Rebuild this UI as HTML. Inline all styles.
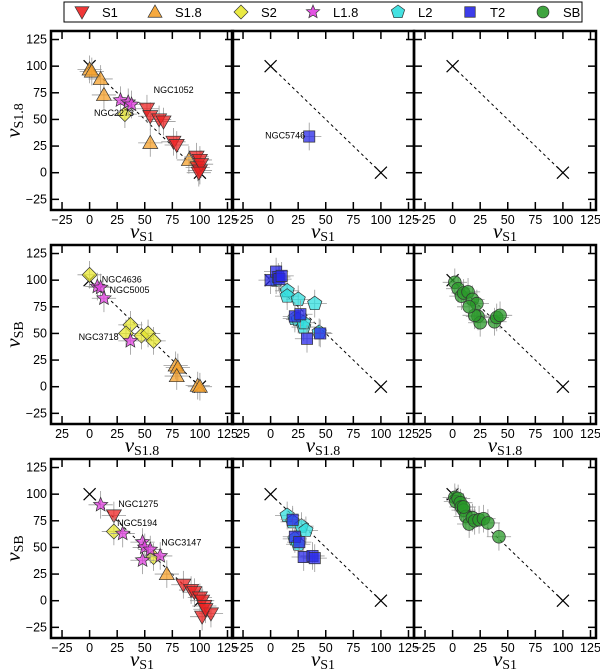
<!DOCTYPE html>
<html><head><meta charset="utf-8">
<style>
html,body{margin:0;padding:0;background:#fff;}
svg{display:block;font-family:"Liberation Sans","DejaVu Sans",sans-serif;}
.tl{font-size:12.5px;fill:#000;}
.ax{font-family:"Liberation Serif","DejaVu Serif",serif;font-style:italic;font-size:21px;}
.sub{font-style:normal;font-size:14px;}
.ann{font-size:9px;fill:#000;}
</style></head>
<body>
<svg id="chart" width="600" height="672" viewBox="0 0 600 672"></svg>
<script>
// ---- data ----
const xTicks = [-25, 0, 25, 50, 75, 100, 125];
const yTicks = [-25, 0, 25, 50, 75, 100, 125];
// Panel 1: x = nu_S1, y = nu_S1.8
const p1_S1 = [[52,60],[55,53],[63,50],[67,48],[76,29],[79,26],[97,15],[100,12],[98,5],[100,2],[101,8],[99,0]];
const p1_S18 = [[0,97],[2,95],[10,88],[13,73],[55,28],[90,12]];
const p1_S2 = [[32,55]];
const p1_L18 = [[28,68],[35,66],[38,64]];
// Panel 2
const p2_T2 = [[35,34]];
// Panel 4: x = nu_S1.8, y = nu_SB
const p4_S2 = [[0,105],[37,58],[33,50],[47,48],[53,50],[58,43]];
const p4_L18 = [[7,94],[10,93],[13,83],[37,43]];
const p4_S18 = [[78,20],[80,18],[79,10],[98,1],[100,0]];
// Panel 5
const p5_L2 = [[5,100],[15,90],[15,85],[25,82],[40,78],[22,64],[25,63],[30,56],[30,60],[44,51]];
const p5_T2 = [[0,100],[5,108],[7,103],[8,101],[10,104],[22,66],[27,68],[33,45],[45,50]];
// Panel 6
const p6_SB = [[2,98],[5,92],[8,85],[10,88],[14,89],[18,82],[22,78],[23,66],[25,60],[20,67],[38,61],[40,65],[43,67],[15,75]];
// Panel 7: x = nu_S1, y = nu_SB
const p7_L18 = [[10,90],[30,63],[48,55],[50,50],[55,48],[48,38],[64,42]];
const p7_S1 = [[22,80],[85,15],[92,10],[95,8],[100,3],[102,0],[104,-5],[102,-15],[110,-12],[105,-8]];
const p7_S2 = [[22,65],[58,41]];
const p7_S18 = [[70,25]];
// Panel 8
const p8_L2 = [[15,80],[20,74],[28,70],[32,66],[22,58],[25,53]];
const p8_T2 = [[20,76],[22,60],[26,55],[30,41],[38,42],[40,40]];
// Panel 9
const p9_SB = [[2,97],[3,93],[5,96],[7,92],[8,88],[10,85],[12,79],[15,72],[18,78],[20,75],[24,76],[28,77],[32,73],[42,60],[10,88]];

const legendLabels = ["S1","S1.8","S2","L1.8","L2","T2","SB"];

// ---- layout ----
const NS="http://www.w3.org/2000/svg";
const svg=document.getElementById('chart');
const colX=[51,232,414], rowY=[31,245,459], PW=182, PH=179;
const XMIN=-35,XMAX=130,YMIN=-35,YMAX=133;
const style={
 S1:{type:'tdown',fill:'#ee2222'},S18:{type:'tup',fill:'#f5a02a'},S2:{type:'diamond',fill:'#e8e830'},
 L18:{type:'star',fill:'#e040e0'},L2:{type:'pent',fill:'#30dede'},T2:{type:'square',fill:'#2828e8'},SB:{type:'circle',fill:'#2a9a2a'}};
function el(tag,attrs,parent){const e=document.createElementNS(NS,tag);for(const k in attrs)e.setAttribute(k,attrs[k]);(parent||svg).appendChild(e);return e;}
function markerPath(type,cx,cy,s){
 let pts=[];
 if(type==='tdown')pts=[[cx-s,cy-s*0.75],[cx+s,cy-s*0.75],[cx,cy+s]];
 else if(type==='tup')pts=[[cx-s,cy+s*0.75],[cx+s,cy+s*0.75],[cx,cy-s]];
 else if(type==='diamond')pts=[[cx,cy-s],[cx+s,cy],[cx,cy+s],[cx-s,cy]];
 else if(type==='square')pts=[[cx-s*0.75,cy-s*0.75],[cx+s*0.75,cy-s*0.75],[cx+s*0.75,cy+s*0.75],[cx-s*0.75,cy+s*0.75]];
 else if(type==='pent'){for(let i=0;i<5;i++){const a=-Math.PI/2+i*2*Math.PI/5;pts.push([cx+s*Math.cos(a),cy+s*Math.sin(a)]);}}
 else if(type==='star'){for(let i=0;i<10;i++){const a=-Math.PI/2+i*Math.PI/5;const r=i%2?s*0.45:s;pts.push([cx+r*Math.cos(a),cy+r*Math.sin(a)]);}}
 return pts;
}
function drawMarker(g,type,fill,cx,cy,s,op){
 if(type==='circle'){return el('circle',{cx:cx,cy:cy,r:s*0.85,fill:fill,'fill-opacity':op,stroke:'#333','stroke-width':0.7},g);}
 return el('polygon',{points:markerPath(type,cx,cy,s).map(p=>p.join(',')).join(' '),fill:fill,'fill-opacity':op,stroke:'#333','stroke-width':0.7},g);
}

// legend
const lg=el('g',{});


el('rect',{x:64,y:2,width:518,height:20,fill:'#fff',stroke:'#000','stroke-width':1},lg);
const legKeys=['S1','S18','S2','L18','L2','T2','SB'];
const legMX=[82,155,241,313,398,470,543];
legKeys.forEach((k,i)=>{
 const g=el('g',{},lg);
 
 
 drawMarker(g,style[k].type,style[k].fill,legMX[i],12,7,0.9);
 const t=el('text',{x:legMX[i]+20,y:17,'font-size':'13px'},g);t.textContent=legendLabels[i];
});

const panels=[
 {r:0,c:0,series:[['S18',p1_S18],['S2',p1_S2],['L18',p1_L18],['S1',p1_S1]],xl:'S1',yl:'S1.8',ann:[['NGC1052',58,75],['NGC2273',4,53]]},
 {r:0,c:1,series:[['T2',p2_T2]],xl:'S1',ann:[['NGC5746',-5,32]]},
 {r:0,c:2,series:[],xl:'S1'},
 {r:1,c:0,series:[['S18',p4_S18],['S2',p4_S2],['L18',p4_L18]],xl:'S1.8',yl:'SB',ann:[['NGC4636',11,98],['NGC5005',18,88],['NGC3718',-10,44]],first25:true},
 {r:1,c:1,series:[['L2',p5_L2],['T2',p5_T2]],xl:'S1.8',first25:true},
 {r:1,c:2,series:[['SB',p6_SB]],xl:'S1.8',first25:true},
 {r:2,c:0,series:[['S18',p7_S18],['S1',p7_S1],['S2',p7_S2],['L18',p7_L18]],xl:'S1',yl:'SB',ann:[['NGC1275',26,88],['NGC5194',25,70],['NGC3147',65,52]]},
 {r:2,c:1,series:[['L2',p8_L2],['T2',p8_T2]],xl:'S1'},
 {r:2,c:2,series:[['SB',p9_SB]],xl:'S1'}
];

panels.forEach((p,pi)=>{
 const x0=colX[p.c],y0=rowY[p.r];
 const sx=v=>x0+(v-XMIN)/(XMAX-XMIN)*PW;
 const sy=v=>y0+PH-(v-YMIN)/(YMAX-YMIN)*PH;
 const g=el('g',{});
 
 
 el('line',{x1:sx(0),y1:sy(100),x2:sx(100),y2:sy(0),stroke:'#000','stroke-width':1,'stroke-dasharray':'3,3'},g);
 [[0,100],[100,0]].forEach(q=>{const cx=sx(q[0]),cy=sy(q[1]);
  el('path',{d:`M${cx-6},${cy-6}L${cx+6},${cy+6}M${cx+6},${cy-6}L${cx-6},${cy+6}`,stroke:'#000','stroke-width':1.2,fill:'none'},g);});
 p.series.forEach(([k,arr])=>{
  const sg=el('g',{},g);
  
  
  arr.forEach(d=>{
   const cx=sx(d[0]),cy=sy(d[1]);
   el('path',{d:`M${sx(d[0]-11)},${cy}H${sx(d[0]+11)}M${cx},${sy(d[1]-13)}V${sy(d[1]+13)}`,stroke:'#999','stroke-width':0.8},sg);
  });
  arr.forEach(d=>{
   const m=drawMarker(sg,style[k].type,style[k].fill,sx(d[0]),sy(d[1]),7.5,0.75);
   
   
  });
 });
 (p.ann||[]).forEach(a=>{const t=el('text',{x:sx(a[1]),y:sy(a[2]),class:'ann'},g);t.textContent=a[0];
  });
 xTicks.forEach(v=>{const x=sx(v);
  el('line',{x1:x,y1:y0+PH,x2:x,y2:y0+PH-8,stroke:'#000','stroke-width':1.5},g);
  el('line',{x1:x,y1:y0,x2:x,y2:y0+8,stroke:'#000','stroke-width':1.5},g);
  const t=el('text',{x:x,y:y0+PH+14,class:'tl','text-anchor':'middle'},g);
  t.textContent=(v<0?(p.first25?'25':'\u221225'):String(v));});
 yTicks.forEach(v=>{const y=sy(v);
  el('line',{x1:x0,y1:y,x2:x0+8,y2:y,stroke:'#000','stroke-width':1.5},g);
  el('line',{x1:x0+PW,y1:y,x2:x0+PW-8,y2:y,stroke:'#000','stroke-width':1.5},g);
  if(p.c===0){const t=el('text',{x:x0-4,y:y+4,class:'tl','text-anchor':'end'},g);t.textContent=(v<0?'\u221225':String(v));}});
 el('rect',{x:x0,y:y0,width:PW,height:PH,fill:'none',stroke:'#000','stroke-width':2.5},g);
 const xt=el('text',{x:x0+PW/2,y:y0+PH+28,class:'ax','text-anchor':'middle'},g);
 xt.innerHTML='\u03bd<tspan class="sub" dy="3">'+p.xl+'</tspan>';
 
 if(p.yl){const yt=el('text',{x:0,y:0,class:'ax','text-anchor':'middle',transform:`translate(20,${y0+PH/2}) rotate(-90)`},g);
  yt.innerHTML='\u03bd<tspan class="sub" dy="3">'+p.yl+'</tspan>';
  }
});
</script>
</body></html>
